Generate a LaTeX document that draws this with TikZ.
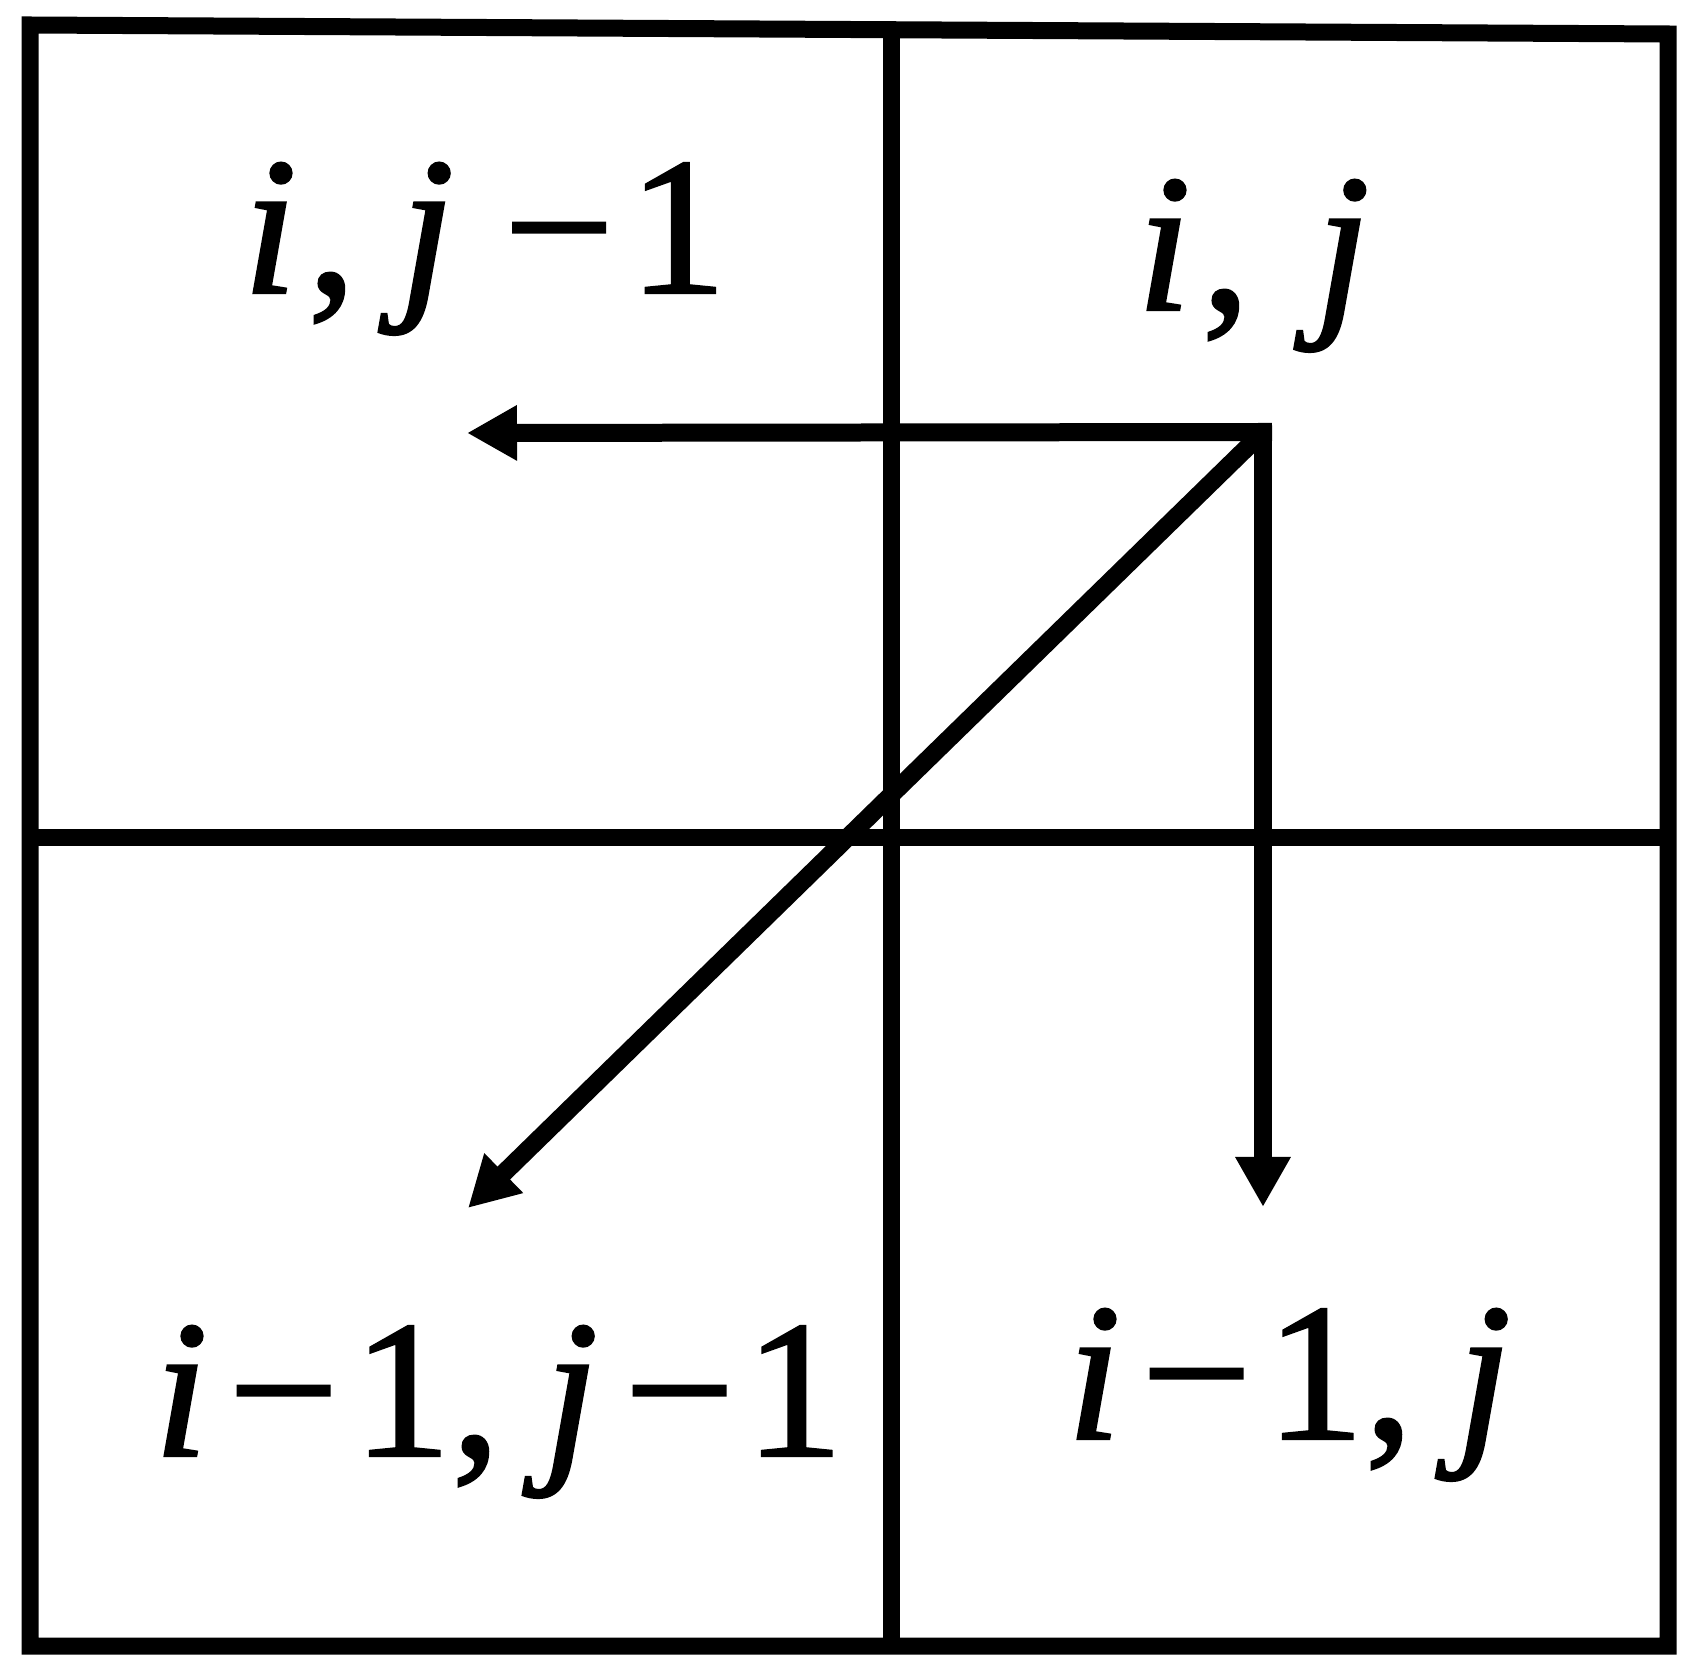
\documentclass[tikz,border=0pt]{standalone}
\usepackage{fontspec}
\setmainfont{LiberationSerif-Regular.ttf}[ItalicFont=LiberationSerif-Italic.ttf]
\newfontfamily\labfont{LiberationSerif-Regular.ttf}[ItalicFont=LiberationSerif-Italic.ttf, FakeBold=1.2]
\usetikzlibrary{arrows.meta}
\newcommand{\mi}[1]{{\itshape #1}}
% minus after i / after j, minus before 1
\newcommand{\mmi}{\hspace{0.10em}\textminus\hspace{0.07em}}
\newcommand{\mmj}{\hspace{0.25em}\textminus\hspace{0.07em}}
\newcommand{\mmb}{\hspace{0.13em}\textminus\hspace{0.05em}}
\newcommand{\cm}{,\hspace{0.22em}}
\begin{document}
\begin{tikzpicture}[
  frame/.style={line width=0.17cm, line join=miter, line cap=rect},
  gridline/.style={line width=0.17cm, line cap=butt},
  link/.style={line width=0.18cm, -{Triangle[length=0.5cm,width=0.52cm]}},
  lab/.style={anchor=base west, inner sep=0pt, font=\labfont\fontsize{56}{60}\selectfont}
]
\useasboundingbox (0,0) rectangle (17.05,16.76);
% frame and grid
\draw[frame] (0.30,16.51) -- (16.68,16.42) -- (16.68,0.30) -- (0.30,0.30) -- cycle;
\draw[gridline] (8.91,16.46) -- (8.91,0.30);
\draw[gridline] (0.30,8.38) -- (16.68,8.38);
% labels
\node[lab] (ijm) at (2.42,13.83) {\mi{i}\hspace{0.05em}\cm\mi{j}\mmj 1};
\node[lab] (ij) at (11.36,13.66) {\mi{i}\hspace{0.05em},\hspace{0.33em}\mi{j}};
\node[lab] (imjm) at (1.53,2.20) {\mi{i}\mmi 1\cm\mi{j}\mmb 1};
\node[lab] (imj) at (10.66,2.37) {\mi{i}\mmi 1\cm\mi{j}};
% arrows
\coordinate (o) at (12.63,12.44);
\coordinate (tl) at (4.67,12.43);
\coordinate (td) at (12.63,4.69);
\coordinate (tg) at (4.68,4.68);
\draw[link, line cap=rect] (o) -- (tl);
\draw[link, line cap=rect] (o) -- (td);
\draw[link, line cap=butt] (o) -- (tg);
\end{tikzpicture}
\end{document}
